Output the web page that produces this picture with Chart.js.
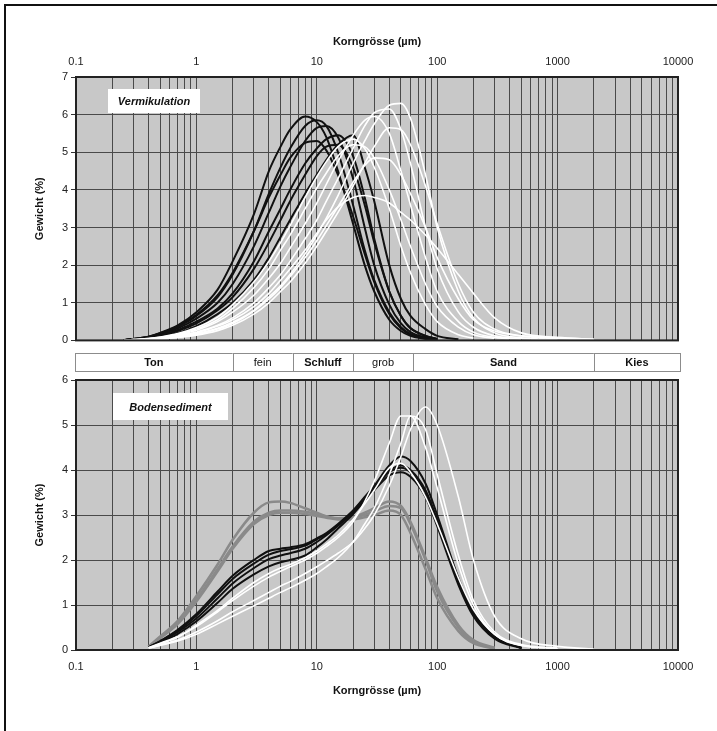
<!DOCTYPE html>
<html>
<head>
<meta charset="utf-8">
<script src="https://cdn.jsdelivr.net/npm/chart.js@4.4.0/dist/chart.umd.min.js"></script>
<style>
  body { margin: 0; background: #fff; }
  #page { position: relative; width: 717px; height: 731px; overflow: hidden; background: #fff; }
  #frame { position: absolute; left: 4px; top: 4px; width: 740px; height: 760px; border-top: 2px solid #111; border-left: 2px solid #111; }
  #topChart { position: absolute; left: 0; top: 0; }
  #bottomChart { position: absolute; left: 0; top: 350px; }
</style>
</head>
<body>
<div id="page">
  <div id="frame"></div>
  <canvas id="topChart" width="717" height="350"></canvas>
  <canvas id="bottomChart" width="717" height="381"></canvas>
</div>
<script>
// Korngrössen (µm), gemeinsam für alle Kurven
const sizes = [0.25, 0.3, 0.4, 0.5, 0.7, 1, 1.5, 2, 3, 4, 5, 6, 8, 10, 12, 15, 20, 25, 30, 40, 50, 60, 80, 100, 150, 200, 300, 500, 1000, 2000];

// Vermikulation - schwarze Kurven
const vermB1 = [0.01, 0.04, 0.1, 0.2, 0.4, 0.75, 1.35, 2.1, 3.35, 4.5, 5.15, 5.6, 5.95, 5.8, 5.4, 4.5, 3.1, 2.0, 1.3, 0.55, 0.25, 0.12, 0.04, 0.01, null, null, null, null, null, null];
const vermB2 = [0.01, 0.04, 0.09, 0.18, 0.36, 0.65, 1.15, 1.75, 2.9, 3.9, 4.6, 5.1, 5.7, 5.85, 5.7, 5.0, 3.6, 2.4, 1.6, 0.75, 0.35, 0.17, 0.06, 0.02, null, null, null, null, null, null];
const vermB3 = [0.01, 0.03, 0.08, 0.15, 0.32, 0.58, 1.0, 1.5, 2.5, 3.4, 4.1, 4.6, 5.3, 5.65, 5.7, 5.4, 4.3, 3.0, 2.0, 0.95, 0.45, 0.22, 0.08, 0.03, null, null, null, null, null, null];
const vermB4 = [0.01, 0.03, 0.07, 0.13, 0.28, 0.5, 0.85, 1.25, 2.1, 2.9, 3.5, 4.0, 4.7, 5.1, 5.35, 5.45, 4.9, 3.8, 2.7, 1.3, 0.65, 0.32, 0.12, 0.04, null, null, null, null, null, null];
const vermB5 = [0.01, 0.04, 0.1, 0.19, 0.38, 0.68, 1.2, 1.8, 2.9, 3.8, 4.4, 4.85, 5.25, 5.3, 5.05, 4.4, 3.3, 2.3, 1.55, 0.7, 0.32, 0.15, 0.05, 0.01, null, null, null, null, null, null];
const vermB6 = [0.01, 0.03, 0.07, 0.12, 0.25, 0.45, 0.8, 1.15, 1.9, 2.6, 3.2, 3.7, 4.4, 4.9, 5.15, 5.2, 4.6, 3.6, 2.6, 1.3, 0.65, 0.33, 0.12, 0.04, null, null, null, null, null, null];
const vermB7 = [0.0, 0.02, 0.05, 0.1, 0.2, 0.38, 0.7, 1.0, 1.6, 2.2, 2.75, 3.2, 3.9, 4.4, 4.8, 5.2, 5.45, 4.6, 3.7, 2.0, 1.1, 0.65, 0.3, 0.12, 0.03, null, null, null, null, null];

// Vermikulation - weisse Kurven
const vermW1 = [null, 0.01, 0.03, 0.05, 0.1, 0.18, 0.32, 0.48, 0.8, 1.15, 1.45, 1.75, 2.3, 2.8, 3.25, 3.85, 4.7, 5.3, 5.75, 6.25, 6.3, 5.9, 4.4, 3.0, 1.3, 0.6, 0.2, 0.07, 0.02, null];
const vermW2 = [null, 0.01, 0.03, 0.06, 0.12, 0.22, 0.4, 0.6, 1.0, 1.4, 1.75, 2.1, 2.7, 3.2, 3.7, 4.3, 5.1, 5.7, 6.05, 6.15, 5.6, 4.7, 3.0, 1.9, 0.75, 0.35, 0.12, 0.05, 0.02, null];
const vermW3 = [0.0, 0.02, 0.04, 0.07, 0.14, 0.27, 0.5, 0.75, 1.2, 1.65, 2.05, 2.45, 3.1, 3.65, 4.15, 4.75, 5.45, 5.85, 5.95, 5.5, 4.5, 3.6, 2.2, 1.3, 0.5, 0.22, 0.08, 0.03, null, null];
const vermW4 = [0.0, 0.02, 0.05, 0.08, 0.16, 0.3, 0.55, 0.85, 1.4, 1.9, 2.4, 2.8, 3.5, 4.05, 4.45, 4.9, 5.2, 5.15, 4.85, 4.0, 3.2, 2.5, 1.5, 0.9, 0.35, 0.15, 0.05, null, null, null];
const vermW5 = [null, 0.01, 0.03, 0.05, 0.1, 0.2, 0.38, 0.55, 0.9, 1.25, 1.6, 1.9, 2.4, 2.85, 3.2, 3.55, 3.8, 3.85, 3.8, 3.65, 3.4, 3.2, 2.8, 2.45, 1.75, 1.25, 0.6, 0.2, 0.08, 0.03];
const vermW6 = [null, 0.01, 0.02, 0.04, 0.08, 0.15, 0.3, 0.45, 0.78, 1.1, 1.4, 1.7, 2.2, 2.65, 3.05, 3.55, 4.2, 4.65, 4.85, 4.8, 4.4, 3.9, 3.0, 2.2, 1.1, 0.55, 0.25, 0.12, 0.07, 0.03];
const vermW7 = [null, 0.01, 0.02, 0.04, 0.08, 0.14, 0.26, 0.4, 0.7, 1.0, 1.3, 1.55, 2.05, 2.5, 2.9, 3.4, 4.1, 4.7, 5.15, 5.65, 5.6, 5.2, 4.1, 3.1, 1.5, 0.75, 0.3, 0.12, 0.05, 0.02];
const vermW8 = [0.0, 0.02, 0.05, 0.09, 0.18, 0.34, 0.62, 0.95, 1.55, 2.1, 2.6, 3.05, 3.8, 4.35, 4.75, 5.15, 5.35, 5.1, 4.6, 3.5, 2.5, 1.8, 0.95, 0.5, 0.15, 0.06, null, null, null, null];

// Bodensediment - graue Kurven
const bodenG1 = [null, null, 0.08, 0.3, 0.65, 1.2, 1.9, 2.45, 3.05, 3.28, 3.3, 3.27, 3.15, 3.05, 2.97, 2.92, 2.95, 3.05, 3.15, 3.3, 3.2, 2.85, 2.05, 1.4, 0.55, 0.22, 0.05, null, null, null];
const bodenG2 = [null, null, 0.07, 0.27, 0.6, 1.12, 1.8, 2.3, 2.85, 3.05, 3.1, 3.1, 3.07, 3.02, 2.97, 2.93, 2.95, 3.0, 3.08, 3.2, 3.15, 2.8, 2.0, 1.3, 0.5, 0.18, 0.04, null, null, null];
const bodenG3 = [null, null, 0.07, 0.26, 0.58, 1.08, 1.75, 2.25, 2.8, 3.0, 3.05, 3.05, 3.02, 2.98, 2.94, 2.9, 2.9, 2.95, 3.0, 3.1, 3.0, 2.6, 1.8, 1.15, 0.42, 0.15, 0.03, null, null, null];

// Bodensediment - schwarze Kurven
const bodenK1 = [null, null, 0.06, 0.2, 0.45, 0.8, 1.3, 1.65, 2.0, 2.2, 2.25, 2.28, 2.35, 2.48, 2.6, 2.8, 3.1, 3.4, 3.65, 4.1, 4.3, 4.2, 3.7, 3.0, 1.6, 0.85, 0.3, 0.05, null, null];
const bodenK2 = [null, null, 0.06, 0.19, 0.43, 0.76, 1.24, 1.58, 1.92, 2.12, 2.2, 2.24, 2.32, 2.46, 2.58, 2.78, 3.08, 3.38, 3.6, 3.98, 4.1, 4.0, 3.55, 2.9, 1.55, 0.8, 0.28, 0.05, null, null];
const bodenK3 = [null, null, 0.05, 0.18, 0.4, 0.7, 1.15, 1.48, 1.82, 2.02, 2.1, 2.15, 2.25, 2.4, 2.55, 2.76, 3.06, 3.36, 3.6, 3.95, 4.05, 3.95, 3.5, 2.85, 1.5, 0.78, 0.27, 0.05, null, null];
const bodenK4 = [null, null, 0.05, 0.16, 0.36, 0.64, 1.05, 1.36, 1.68, 1.86, 1.95, 2.0, 2.1, 2.28, 2.45, 2.7, 3.02, 3.32, 3.55, 3.88, 3.95, 3.85, 3.4, 2.75, 1.45, 0.75, 0.25, 0.04, null, null];

// Bodensediment - weisse Kurven
const bodenV1 = [null, null, 0.04, 0.11, 0.22, 0.4, 0.65, 0.85, 1.1, 1.28, 1.42, 1.52, 1.7, 1.85, 1.98, 2.15, 2.4, 2.7, 3.0, 3.65, 4.3, 4.9, 5.4, 5.0, 3.4, 2.0, 0.75, 0.25, 0.08, 0.02];
const bodenV2 = [null, null, 0.05, 0.15, 0.3, 0.52, 0.85, 1.1, 1.42, 1.62, 1.75, 1.85, 2.0, 2.15, 2.3, 2.5, 2.85, 3.3, 3.75, 4.6, 5.2, 5.2, 4.5, 3.6, 1.9, 1.0, 0.35, 0.1, 0.04, null];
const bodenV3 = [null, null, 0.04, 0.1, 0.2, 0.35, 0.58, 0.75, 0.98, 1.15, 1.28, 1.38, 1.55, 1.7, 1.85, 2.05, 2.4, 2.8, 3.15, 3.9, 4.6, 5.2, 4.9, 3.9, 2.1, 1.1, 0.4, 0.12, 0.04, null];
const bodenV4 = [null, null, 0.05, 0.14, 0.28, 0.55, 0.88, 1.15, 1.5, 1.7, 1.82, 1.9, 2.05, 2.2, 2.35, 2.55, 2.9, 3.25, 3.55, 4.05, 4.15, 3.95, 3.4, 2.8, 1.6, 0.9, 0.35, 0.1, 0.04, null];

// Achsenbeschriftung
const decadeValues = [0.1, 1, 10, 100, 1000, 10000];
const decadeLabels = ['0.1', '1', '10', '100', '1000', '10000'];

// Kornfraktionen (Grenzen in µm)
const bandEdges = [0.1, 2, 6.3, 20, 63, 2000, 10000];
const bandLabels = ['Ton', 'fein', 'Schluff', 'grob', 'Sand', 'Kies'];

const FONT = "'Liberation Sans', Arial, sans-serif";
Chart.defaults.font.family = FONT;
Chart.defaults.font.size = 11;
Chart.defaults.color = '#222';

function toPoints(values) {
    const pts = [];
    values.forEach((v, i) => {
        if (v !== null) pts.push({ x: sizes[i], y: v });
    });
    return pts;
}

function curve(values, color, width, order) {
    return {
        data: toPoints(values),
        borderColor: color,
        borderWidth: width,
        pointRadius: 0,
        fill: false,
        cubicInterpolationMode: 'monotone',
        order: order
    };
}

// Log-Raster 1..9 pro Dekade
function logTicks(scale) {
    const ticks = [];
    for (let e = -1; e < 4; e++) {
        for (let m = 1; m < 10; m++) ticks.push({ value: m * Math.pow(10, e) });
    }
    ticks.push({ value: 10000 });
    scale.ticks = ticks;
}

function decadeLabel(value) {
    const i = decadeValues.findIndex(d => Math.abs(d - value) / d < 1e-6);
    return i >= 0 ? decadeLabels[i] : '';
}

// Grauer Hintergrund und Rahmen der Diagrammfläche
const plotArea = {
    id: 'plotArea',
    beforeDraw(chart) {
        const { ctx, chartArea: a } = chart;
        ctx.save();
        ctx.fillStyle = '#c8c8c8';
        ctx.fillRect(a.left, a.top, a.right - a.left, a.bottom - a.top);
        ctx.restore();
    },
    afterDatasetsDraw(chart) {
        const { ctx, chartArea: a } = chart;
        ctx.save();
        ctx.strokeStyle = '#222';
        ctx.lineWidth = 2;
        ctx.strokeRect(a.left, a.top, a.right - a.left, a.bottom - a.top);
        ctx.restore();
    }
};

function panelLabel(text, dx, dy, w, h) {
    return {
        id: 'panelLabel',
        afterDatasetsDraw(chart) {
            const { ctx, chartArea: a } = chart;
            ctx.save();
            ctx.fillStyle = '#fff';
            ctx.fillRect(a.left + dx, a.top + dy, w, h);
            ctx.font = 'italic bold 11px ' + FONT;
            ctx.fillStyle = '#111';
            ctx.textAlign = 'center';
            ctx.textBaseline = 'middle';
            ctx.fillText(text, a.left + dx + w / 2, a.top + dy + h / 2 + 1);
            ctx.restore();
        }
    };
}

// Leiste mit den Kornfraktionen über dem unteren Diagramm
const soilBand = {
    id: 'soilBand',
    afterDraw(chart) {
        const { ctx, chartArea: a, scales: { x } } = chart;
        const top = a.top - 27;
        const h = 18;
        ctx.save();
        ctx.strokeStyle = '#8c8c8c';
        ctx.lineWidth = 1;
        bandLabels.forEach((label, i) => {
            let x0 = x.getPixelForValue(bandEdges[i]);
            let x1 = x.getPixelForValue(bandEdges[i + 1]);
            if (i === 0) x0 -= 1;
            if (i === bandLabels.length - 1) x1 += 2;
            ctx.fillStyle = '#fff';
            ctx.fillRect(x0, top, x1 - x0, h);
            ctx.strokeRect(Math.round(x0) + 0.5, top + 0.5, Math.round(x1 - x0), h);
            const bold = label !== 'fein' && label !== 'grob';
            ctx.font = (bold ? 'bold ' : '') + '11px ' + FONT;
            ctx.fillStyle = '#111';
            ctx.textAlign = 'center';
            ctx.textBaseline = 'middle';
            ctx.fillText(label, (x0 + x1) / 2, top + h / 2 + 1);
        });
        ctx.restore();
    }
};

function gridColor(ctx) {
    return '#4a4a4a';
}

function makeChart(canvasId, datasets, yMax, xPos, label, pad, xHeight, titlePad) {
    return new Chart(document.getElementById(canvasId).getContext('2d'), {
        type: 'line',
        data: { datasets: datasets },
        options: {
            responsive: false,
            animation: false,
            layout: { padding: pad },
            plugins: { legend: { display: false }, tooltip: { enabled: false } },
            scales: {
                x: {
                    type: 'logarithmic',
                    position: xPos,
                    min: 0.1,
                    max: 10000,
                    afterBuildTicks: logTicks,
                    afterFit: (s) => { s.height = xHeight; },
                    grid: { color: gridColor, lineWidth: 1, drawTicks: false },
                    border: { display: false },
                    ticks: { autoSkip: false, maxRotation: 0, padding: xPos === 'top' ? 8 : 10, callback: decadeLabel, color: '#222' },
                    title: { display: true, text: 'Korngrösse (µm)', font: { weight: 'bold', size: 11 }, color: '#111', padding: titlePad }
                },
                y: {
                    min: 0,
                    max: yMax,
                    afterFit: (s) => { s.width = 76; },
                    grid: { color: '#4a4a4a', lineWidth: 1, tickLength: 5, tickColor: '#333' },
                    border: { display: false },
                    ticks: { stepSize: 1, padding: 3, color: '#222' },
                    title: { display: true, text: 'Gewicht (%)', font: { weight: 'bold', size: 11 }, color: '#111', padding: { top: 33, bottom: 0 } }
                }
            }
        },
        plugins: [plotArea, label].concat(canvasId === 'bottomChart' ? [soilBand] : [])
    });
}

const BLACK = '#111';
const WHITE = '#fff';
const GREY = '#8a8a8a';

const topDatasets = [
    curve(vermW1, WHITE, 1.6, 0), curve(vermW2, WHITE, 1.6, 0), curve(vermW3, WHITE, 1.6, 0), curve(vermW4, WHITE, 1.6, 0),
    curve(vermW5, WHITE, 1.6, 0), curve(vermW6, WHITE, 1.6, 0), curve(vermW7, WHITE, 1.6, 0), curve(vermW8, WHITE, 1.6, 0),
    curve(vermB1, BLACK, 2, 1), curve(vermB2, BLACK, 2, 1), curve(vermB3, BLACK, 2, 1), curve(vermB4, BLACK, 2, 1),
    curve(vermB5, BLACK, 2, 1), curve(vermB6, BLACK, 2, 1), curve(vermB7, BLACK, 2, 1)
];

const bottomDatasets = [
    curve(bodenV1, WHITE, 1.6, 0), curve(bodenV2, WHITE, 1.6, 0), curve(bodenV3, WHITE, 1.6, 0), curve(bodenV4, WHITE, 1.6, 0),
    curve(bodenK1, BLACK, 2, 1), curve(bodenK2, BLACK, 2, 1), curve(bodenK3, BLACK, 2, 1), curve(bodenK4, BLACK, 2, 1),
    curve(bodenG1, GREY, 2.5, 2), curve(bodenG2, GREY, 2.5, 2), curve(bodenG3, GREY, 2.5, 2)
];

makeChart('topChart', topDatasets, 7, 'top', panelLabel('Vermikulation', 32, 12, 92, 24),
    { left: 0, right: 39, top: 0, bottom: 5 }, 77, { top: 35, bottom: 0 });

makeChart('bottomChart', bottomDatasets, 6, 'bottom', panelLabel('Bodensediment', 37, 13, 115, 27),
    { left: 0, right: 39, top: 30, bottom: 0 }, 81, { top: 0, bottom: 33 });
</script>
</body>
</html>
